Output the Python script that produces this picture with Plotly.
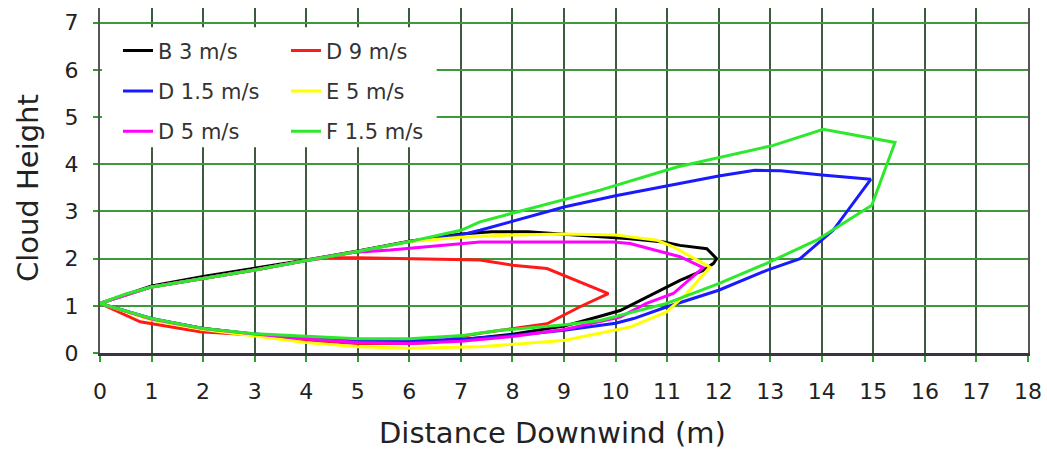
import plotly.graph_objects as go

# ---- data ----
b3_x = [0, 1, 2, 3, 4, 5, 6, 7, 7.6, 8.3, 9.4, 10.28, 10.93, 11.25, 11.77, 11.96, 11.9, 11.7, 11.25, 10.6, 10.09, 9.7, 9, 8, 7, 6, 5, 4, 3, 2, 1, 0]
b3_y = [1.05, 1.42, 1.62, 1.79, 1.97, 2.16, 2.37, 2.52, 2.57, 2.57, 2.48, 2.42, 2.35, 2.28, 2.21, 2.0, 1.9, 1.75, 1.54, 1.19, 0.9, 0.78, 0.57, 0.4, 0.28, 0.22, 0.23, 0.3, 0.4, 0.52, 0.72, 1.05]

d9_x = [0, 1, 2, 3, 4, 4.4, 5, 6, 7, 7.37, 8.0, 8.67, 9.86, 9.31, 8.67, 8.0, 7.37, 7, 6.5, 6, 5, 4.3, 3, 1.94, 0.78, 0]
d9_y = [1.05, 1.4, 1.58, 1.76, 1.96, 2.02, 2.02, 2.0, 1.98, 1.97, 1.86, 1.79, 1.26, 0.98, 0.62, 0.52, 0.42, 0.35, 0.22, 0.2, 0.2, 0.25, 0.38, 0.45, 0.66, 1.05]

d15_x = [0, 1, 2, 3, 4, 5, 6, 7, 7.37, 8, 9.02, 10, 11, 12, 12.7, 13.2, 14.0, 14.95, 14.22, 13.58, 12.93, 12, 11, 10.35, 10, 9, 8, 7, 6, 5, 4, 3, 2, 1, 0]
d15_y = [1.05, 1.4, 1.58, 1.76, 1.96, 2.15, 2.36, 2.5, 2.6, 2.79, 3.1, 3.33, 3.54, 3.75, 3.87, 3.86, 3.77, 3.68, 2.6, 2.0, 1.75, 1.33, 0.98, 0.73, 0.63, 0.48, 0.37, 0.29, 0.26, 0.27, 0.33, 0.4, 0.52, 0.73, 1.05]

e5_x = [0, 1, 2, 3, 4, 5, 6, 7, 8, 9, 10, 10.8, 11.12, 11.83, 11.38, 10.99, 10.28, 9.02, 7.37, 6, 5, 4, 3, 2, 1, 0]
e5_y = [1.05, 1.4, 1.58, 1.76, 1.96, 2.15, 2.36, 2.45, 2.5, 2.52, 2.5, 2.39, 2.25, 1.82, 1.26, 0.87, 0.55, 0.27, 0.13, 0.1, 0.13, 0.22, 0.36, 0.5, 0.7, 1.05]

d5_x = [0, 1, 2, 3, 4, 4.9, 5.63, 7.37, 9.96, 10.28, 11.25, 11.7, 11.12, 10.6, 10.09, 9, 8, 7, 6, 5, 4, 3, 2, 1, 0]
d5_y = [1.05, 1.4, 1.58, 1.76, 1.96, 2.13, 2.18, 2.35, 2.35, 2.32, 2.04, 1.81, 1.26, 1.05, 0.76, 0.5, 0.35, 0.25, 0.2, 0.22, 0.3, 0.4, 0.52, 0.72, 1.05]

f15_x = [0, 0.5, 1, 2, 3, 4, 5, 6, 7, 7.37, 9.7, 11.19, 13.06, 14.03, 15.42, 14.97, 13.9, 12.93, 12.0, 10.99, 9.7, 9.02, 7.76, 7.04, 6, 5, 4, 3, 2, 1, 0]
f15_y = [1.05, 1.25, 1.4, 1.58, 1.76, 1.96, 2.15, 2.36, 2.6, 2.78, 3.45, 3.94, 4.4, 4.74, 4.46, 3.13, 2.39, 1.9, 1.47, 1.05, 0.69, 0.6, 0.48, 0.37, 0.3, 0.3, 0.35, 0.41, 0.52, 0.73, 1.05]

x_ticks = list(range(0, 19))
y_ticks = list(range(0, 8))

x_title = "Distance Downwind (m)"
y_title = "Cloud Height"

series = [
    ("B 3 m/s", b3_x, b3_y, "#000000", "legend"),
    ("D 9 m/s", d9_x, d9_y, "#ff1a1a", "legend2"),
    ("D 1.5 m/s", d15_x, d15_y, "#1a1aff", "legend"),
    ("E 5 m/s", e5_x, e5_y, "#ffff00", "legend2"),
    ("D 5 m/s", d5_x, d5_y, "#ff00ff", "legend"),
    ("F 1.5 m/s", f15_x, f15_y, "#2ee82e", "legend2"),
]

FONT = "DejaVu Sans"

fig = go.Figure()
for name, xs, ys, col, lg in series:
    fig.add_trace(go.Scatter(
        x=xs, y=ys, mode="lines", name=name,
        line=dict(color=col, width=3),
        legend=lg, legendgroup=name,
    ))

# white area behind the legend (hides grid)
fig.add_shape(type="rect", xref="x", yref="y", x0=0.04, x1=6.53, y0=4.36, y1=6.9,
              fillcolor="white", line=dict(width=0), layer="above")

legend_common = dict(
    font=dict(family=FONT, size=21, color="#333333"),
    bgcolor="rgba(0,0,0,0)", borderwidth=0,
    xanchor="left", yanchor="top", tracegroupgap=10,
    traceorder="grouped",
)

fig.update_layout(
    width=1047, height=453,
    margin=dict(l=100, r=19, t=8, b=100),
    paper_bgcolor="white", plot_bgcolor="white",
    showlegend=True,
    legend=dict(x=0.0194, y=0.935, **legend_common),
    legend2=dict(x=0.2004, y=0.935, **legend_common),
    font=dict(family=FONT, color="#222222"),
)

# axis titles placed as annotations for exact positioning
fig.add_annotation(text=x_title, xref="paper", yref="paper", x=0.488, y=-0.232,
                   xanchor="center", yanchor="middle", showarrow=False,
                   font=dict(family=FONT, size=29, color="#222222"))
fig.add_annotation(text=y_title, xref="paper", yref="paper", x=-0.0776, y=0.478,
                   xanchor="center", yanchor="middle", showarrow=False, textangle=-90,
                   font=dict(family=FONT, size=29, color="#222222"))

fig.update_xaxes(
    range=[0, 18], tickvals=x_ticks, ticktext=[str(v) for v in x_ticks],
    showgrid=True, gridcolor="#3e5a3e", gridwidth=1.8,
    zeroline=False,
    showline=True, linecolor="#3a3346", linewidth=2.5,
    ticks="outside", tickcolor="#2e9e2e", ticklen=6, tickwidth=1.5,
    tickfont=dict(family=FONT, size=22, color="#222222"),
    ticklabelstandoff=11,
    automargin=False,
)
fig.update_yaxes(
    range=[0, 7.31], tickvals=y_ticks, ticktext=[str(v) for v in y_ticks],
    showgrid=True, gridcolor="#3c9a3c", gridwidth=1.8,
    zeroline=False,
    showline=True, mirror=True, linecolor="#555555", linewidth=2,
    ticks="outside", tickcolor="#2e9e2e", ticklen=5, tickwidth=1.5,
    tickfont=dict(family=FONT, size=22, color="#222222"),
    ticklabelstandoff=10,
    automargin=False,
)

# remove the default page margin so the figure fills the window exactly
fig.write_html(
    "out.html",
    config={"displayModeBar": False},
    post_script="document.body.style.margin='0';document.body.style.overflow='hidden';",
)
